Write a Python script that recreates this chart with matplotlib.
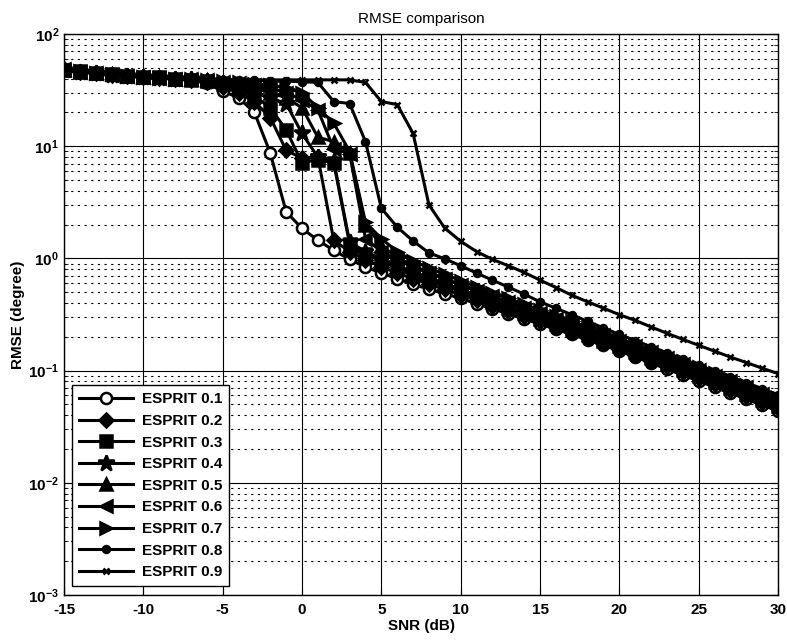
import matplotlib
matplotlib.use('Agg')
from matplotlib import pyplot as plt
from matplotlib.ticker import LogLocator, FixedLocator, NullFormatter, FuncFormatter
import numpy as np

plt.rcParams['font.family'] = 'Liberation Sans'
plt.rcParams['axes.unicode_minus'] = False
plt.rcParams['mathtext.fontset'] = 'custom'
plt.rcParams['mathtext.rm'] = 'Liberation Sans'
plt.rcParams['mathtext.bf'] = 'Liberation Sans:bold'
plt.rcParams['mathtext.default'] = 'bf'

snr = np.arange(-15, 31)

esprit_01 = [48, 46, 45, 44, 42.5, 41.5, 41, 40, 39, 36.5, 31, 27, 20, 8.7, 2.6,
             1.85, 1.45, 1.18, 0.98, 0.84, 0.74, 0.66, 0.59, 0.53, 0.485, 0.44,
             0.395, 0.356, 0.32, 0.288, 0.26, 0.234, 0.21, 0.188, 0.168, 0.15,
             0.132, 0.117, 0.103, 0.091, 0.081, 0.071, 0.063, 0.056, 0.049, 0.044]
esprit_02 = [48.5, 46, 45, 43.5, 42.5, 41.5, 40.5, 40, 39, 37.5, 34, 30, 25, 18, 9.2,
             7.8, 8.0, 1.45, 1.15, 0.97, 0.84, 0.74, 0.66, 0.59, 0.53, 0.475,
             0.425, 0.38, 0.34, 0.305, 0.274, 0.246, 0.22, 0.197, 0.176, 0.157,
             0.139, 0.123, 0.109, 0.097, 0.086, 0.076, 0.067, 0.059, 0.052, 0.046]
esprit_03 = [47.5, 46.5, 44.5, 44, 42, 41.5, 41, 39.5, 39, 38, 35.5, 32, 28, 22, 14,
             7.1, 7.6, 7.1, 1.35, 1.1, 0.94, 0.82, 0.72, 0.64, 0.57, 0.51,
             0.455, 0.405, 0.362, 0.324, 0.29, 0.26, 0.232, 0.207, 0.185, 0.165,
             0.146, 0.129, 0.114, 0.101, 0.09, 0.079, 0.07, 0.062, 0.055, 0.048]
esprit_04 = [48, 45.5, 45, 43.5, 42.5, 41, 40.5, 40, 39.5, 38, 36.5, 34, 31, 27, 24,
             13, 8.0, 7.4, 1.4, 1.15, 0.98, 0.86, 0.75, 0.67, 0.595, 0.53,
             0.472, 0.42, 0.375, 0.335, 0.3, 0.268, 0.24, 0.214, 0.191, 0.17,
             0.151, 0.134, 0.119, 0.105, 0.093, 0.082, 0.073, 0.065, 0.057, 0.05]
esprit_05 = [48, 46, 44.5, 44, 42, 41.5, 41, 40, 39.5, 38.5, 37, 35.5, 33, 30, 27,
             22, 12, 11, 8.7, 2.0, 1.3, 1.02, 0.86, 0.75, 0.66, 0.58,
             0.51, 0.45, 0.4, 0.355, 0.316, 0.282, 0.251, 0.224, 0.2, 0.178,
             0.158, 0.14, 0.124, 0.11, 0.097, 0.086, 0.076, 0.067, 0.059, 0.052]
esprit_06 = [48.5, 46, 45, 43.5, 42.5, 41, 40.5, 40, 39.5, 38.5, 37.5, 36.5, 35, 33, 30,
             26, 21, 9.5, 8.6, 1.5, 1.15, 0.97, 0.84, 0.74, 0.655, 0.58,
             0.515, 0.458, 0.408, 0.364, 0.325, 0.29, 0.259, 0.231, 0.206, 0.184,
             0.164, 0.146, 0.129, 0.115, 0.102, 0.09, 0.08, 0.071, 0.062, 0.055]
esprit_07 = [48, 46.5, 44.5, 44, 42.5, 41.5, 40.5, 40, 39.5, 39, 38, 37, 36, 35, 33,
             30, 22, 16, 9.0, 2.1, 1.5, 1.15, 0.95, 0.82, 0.72, 0.635,
             0.56, 0.495, 0.44, 0.39, 0.347, 0.309, 0.275, 0.245, 0.218, 0.194,
             0.172, 0.153, 0.136, 0.121, 0.107, 0.095, 0.084, 0.074, 0.065, 0.057]
esprit_08 = [48, 46, 45, 44, 42.5, 41.5, 41, 40.5, 40, 39.5, 39, 38.5, 38.5, 38, 38,
             37.5, 37, 25, 24, 11, 2.8, 1.9, 1.43, 1.12, 0.99, 0.86,
             0.74, 0.64, 0.555, 0.48, 0.41, 0.36, 0.315, 0.275, 0.24, 0.21,
             0.185, 0.163, 0.144, 0.127, 0.112, 0.099, 0.088, 0.078, 0.069, 0.061]
esprit_09 = [48, 46, 45, 44, 42.5, 41.5, 41, 40.5, 40, 39.5, 39.5, 39, 39, 39, 39,
             39, 39, 39, 39, 37, 25, 23.5, 13, 3.0, 1.86, 1.42,
             1.15, 0.98, 0.86, 0.75, 0.64, 0.55, 0.47, 0.41, 0.36, 0.315,
             0.28, 0.245, 0.215, 0.19, 0.168, 0.149, 0.132, 0.118, 0.105, 0.094]

series = [esprit_01, esprit_02, esprit_03, esprit_04, esprit_05,
          esprit_06, esprit_07, esprit_08, esprit_09]
labels = ['ESPRIT 0.1', 'ESPRIT 0.2', 'ESPRIT 0.3', 'ESPRIT 0.4', 'ESPRIT 0.5',
          'ESPRIT 0.6', 'ESPRIT 0.7', 'ESPRIT 0.8', 'ESPRIT 0.9']
markers = ['o', 'D', 's', '*', '^', '<', '>', '.', 'x']
msizes = [8, 7, 8, 12, 9, 9, 9, 10, 5]

fig = plt.figure(figsize=(7.87, 6.40), dpi=100)
ax = fig.add_axes([0.0813, 0.0703, 0.9073, 0.8766])

for y, lab, m, ms in zip(series, labels, markers, msizes):
    mfc = 'white' if m == 'o' else 'black'
    ax.semilogy(snr, y, color='black', lw=2.2, marker=m, ms=ms,
                mfc=mfc, mec='black', mew=1.8, label=lab)

ax.set_xlim(-15, 30)
ax.set_ylim(1e-3, 1e2)
ax.xaxis.set_major_locator(FixedLocator(np.arange(-15, 31, 5)))
ax.yaxis.set_major_locator(LogLocator(base=10, numticks=10))
ax.yaxis.set_minor_locator(LogLocator(base=10, subs=np.arange(2, 10), numticks=20))
ax.yaxis.set_minor_formatter(NullFormatter())
ax.yaxis.set_major_formatter(FuncFormatter(lambda v, p: r'$10^{%d}$' % round(np.log10(v))))

ax.grid(True, which='major', color='black', lw=0.8, ls='-')
ax.grid(True, which='minor', axis='y', color='black', lw=0.8, ls=(0, (2, 4)))
ax.tick_params(which='both', direction='in', top=True, right=True)
ax.tick_params(which='major', length=5, labelsize=11)
ax.tick_params(axis='x', which='major', pad=6)
ax.tick_params(which='minor', length=3)
for t in ax.get_xticklabels():
    t.set_fontweight('bold')
for s in ax.spines.values():
    s.set_linewidth(1.0)

ax.set_title('RMSE comparison', fontsize=11, pad=8)
ax.set_xlabel('SNR (dB)', fontsize=11, fontweight='bold', labelpad=1)
ax.set_ylabel('RMSE (degree)', fontsize=11, fontweight='bold', labelpad=2)

leg = ax.legend(loc='lower left', bbox_to_anchor=(0.001, 0.002), fancybox=False,
                edgecolor='black', framealpha=1, handlelength=3.5,
                prop={'weight': 'bold', 'size': 11}, labelspacing=0.5,
                borderpad=0.45, handletextpad=0.6)
leg.get_frame().set_linewidth(1.0)

fig.savefig('out.png', dpi=100)
